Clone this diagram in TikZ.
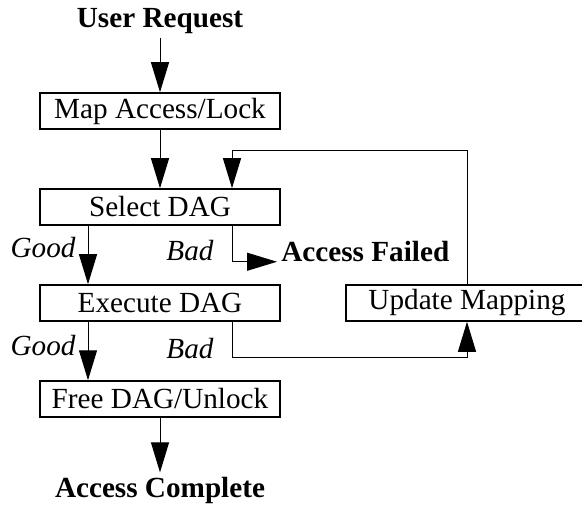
\documentclass[tikz,border=0pt]{standalone}
\usepackage{fontspec}
\setmainfont{Liberation Serif}
\usetikzlibrary{arrows.meta}
\begin{document}
\begin{tikzpicture}

			\tikzstyle{module}=[draw=black,line width=0.75pt,
				minimum width=120pt,minimum height=18pt,inner sep=1pt,
				node distance=48pt,
				font=\fontsize{14.6}{17}\selectfont]
			\tikzstyle{result}=[inner sep=2pt,
				font=\fontsize{14.6}{17}\selectfont\bfseries]
			\tikzstyle{case}=[inner sep=6pt,
				font=\fontsize{14.6}{17}\selectfont\itshape]
			\tikzstyle{flow}=[line width=0.5pt,
				-{Triangle[length=15pt,width=9pt]}]

			\path[use as bounding box,clip] (0,0) rectangle (291pt,-253.5pt);

			\node[module] (map) at (80pt,-55.5pt)	{Map Access/Lock};
			\node[module,below of=map]		(select)	{Select DAG};
			\node[module,below of=select]	(exec)	{Execute DAG};
			\node[module,below of=exec]		(free)	{Free DAG/Unlock};
			\node[module,right of=exec,node distance=153.5pt,
				minimum width=121pt]	(update)	{Update Mapping};

			\node[result,above of=map,node distance=45pt]	(user)	{User Request};
			\node[result,below of=free,node distance=45.5pt]	(done)	{Access Complete};
			\node[result,anchor=base west]	(failed)
				at ([xshift=58.5pt,yshift=-18pt]select.south)	{Access Failed};

			\draw[flow] (user) -- (map);
			\draw[flow] (map) -- (select);
			\draw[flow] ([xshift=-36pt]select.south) -- 
				node[case,left,pos=0.38]{Good} ([xshift=-36pt]exec.north);
			\draw[flow] ([xshift=36pt]select.south) |- 
				node[case,left,pos=0.35,xshift=-3pt]{Bad} (failed.base west);
			\draw[flow] ([xshift=-36pt]exec.south) -- 
				node[case,left,pos=0.41]{Good} ([xshift=-36pt]free.north);
			\draw[flow] ([xshift=36pt]exec.south) -- 
				node[case,left,pos=0.75,xshift=-3pt]{Bad} ++(0,-18pt) -| (update.south);
			\draw[flow] (update.north) -- ++(0,67pt) -| ([xshift=36pt]select.north);
			\draw[flow] (free) -- (done);

			\end{tikzpicture}
\end{document}
